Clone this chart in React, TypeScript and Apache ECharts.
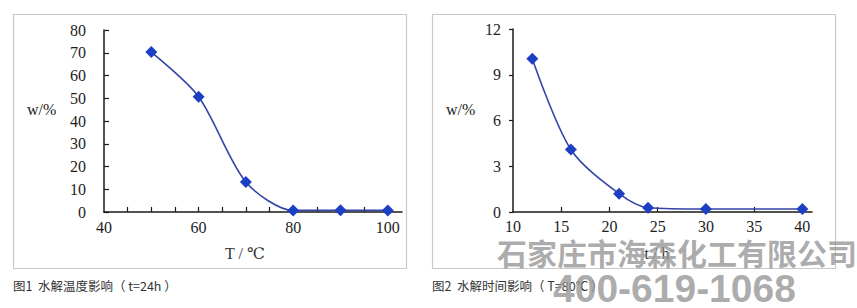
import React, { useEffect, useRef } from "react";
import * as echarts from "echarts";

const tempX = [50, 60, 70, 80, 90, 100];
const tempY = [70.3, 50.7, 13.2, 0.7, 0.8, 0.7];
const timeX = [12, 16, 21, 24, 30, 40];
const timeY = [10.05, 4.1, 1.2, 0.28, 0.2, 0.2];

const tempLabels = [40, 60, 80, 100];
const tempTicks = [45, 50, 55, 60, 65, 70, 75, 80, 85, 90, 95, 100];
const timeLabels = [10, 15, 20, 25, 30, 35, 40];
const timeTicks = [15, 20, 25, 30, 35, 40];

const caption1 = "图1  水解温度影响（ t=24h ）";
const caption2 = "图2  水解时间影响（ T=80℃ ）";
const yName = "w/%";
const xName1 = "T / ℃";
const xName2 = "t / h";
const watermark1 = "石家庄市海森化工有限公司";
const watermark2 = "400-619-1068";

const serif = "'Liberation Serif', 'DejaVu Serif', serif";
const sans = "'Noto Sans CJK SC', 'Noto Sans', sans-serif";
const axisColor = "#1a1a1a";
const lineColor = "#3444a8";
const markColor = "#1c3fc4";

export default function App() {
  const ref = useRef<HTMLDivElement>(null);
  useEffect(() => {
    if (!ref.current) return;
    const chart = echarts.init(ref.current, null, { renderer: "svg" });
    const axisLabel = { color: "#1e1e1e", fontFamily: serif, fontSize: 16 };
    chart.setOption({
      animation: false,
      backgroundColor: "#fff",
      grid: [
        { left: 104, top: 30, width: 298, height: 182 },
        { left: 513, top: 29, width: 299, height: 183 },
      ],
      xAxis: [
        {
          gridIndex: 0, type: "value", min: 40, max: 103,
          axisLine: { lineStyle: { color: axisColor, width: 1.5 } },
          axisTick: { inside: true, length: 5, customValues: tempTicks, lineStyle: { color: axisColor, width: 1.2 } },
          axisLabel: { ...axisLabel, margin: 7, customValues: tempLabels },
          splitLine: { show: false },
        },
        {
          gridIndex: 1, type: "value", min: 10, max: 41,
          axisLine: { lineStyle: { color: axisColor, width: 1.5 } },
          axisTick: { inside: true, length: 5, customValues: timeTicks, lineStyle: { color: axisColor, width: 1.2 } },
          axisLabel: { ...axisLabel, margin: 6, customValues: timeLabels },
          splitLine: { show: false },
        },
      ],
      yAxis: [
        {
          gridIndex: 0, type: "value", min: 0, max: 80, interval: 10,
          axisLine: { show: true, lineStyle: { color: axisColor, width: 1.5 } },
          axisTick: { show: true, inside: true, length: 5, lineStyle: { color: axisColor, width: 1.2 } },
          axisLabel: { ...axisLabel, margin: 18 },
          splitLine: { show: false },
        },
        {
          gridIndex: 1, type: "value", min: 0, max: 12, interval: 3,
          axisLine: { show: true, lineStyle: { color: axisColor, width: 1.5 } },
          axisTick: { show: true, inside: false, length: 4, lineStyle: { color: axisColor, width: 1.2 } },
          axisLabel: { ...axisLabel, margin: 12 },
          splitLine: { show: false },
        },
      ],
      series: [
        {
          type: "line", xAxisIndex: 0, yAxisIndex: 0, smooth: 0.28,
          data: tempX.map((x, i) => [x, tempY[i]]),
          symbol: "diamond", symbolSize: 12,
          lineStyle: { color: lineColor, width: 1.6 },
          itemStyle: { color: markColor },
        },
        {
          type: "line", xAxisIndex: 1, yAxisIndex: 1, smooth: 0.3,
          data: timeX.map((x, i) => [x, timeY[i]]),
          symbol: "diamond", symbolSize: 12,
          lineStyle: { color: lineColor, width: 1.6 },
          itemStyle: { color: markColor },
        },
      ],
      graphic: [
        { type: "rect", shape: { x: 13.5, y: 14.5, width: 393, height: 254 }, style: { fill: "none", stroke: "#c9c9c9", lineWidth: 1.2 }, z: -1 },
        { type: "rect", shape: { x: 432.5, y: 14.5, width: 403, height: 254 }, style: { fill: "none", stroke: "#c9c9c9", lineWidth: 1.2 }, z: -1 },
        { type: "text", x: 27, y: 109, style: { text: yName, font: `16px ${serif}`, fill: "#222", verticalAlign: "middle" } },
        { type: "text", x: 446, y: 109, style: { text: yName, font: `16px ${serif}`, fill: "#222", verticalAlign: "middle" } },
        { type: "text", x: 245, y: 253, style: { text: xName1, font: `16px ${serif}`, fill: "#333", align: "center", verticalAlign: "middle" } },
        { type: "text", x: 657, y: 253, style: { text: xName2, font: `16px ${serif}`, fill: "#333", align: "center", verticalAlign: "middle" } },
        { type: "text", x: 13, y: 285, style: { text: caption1, font: `12.5px ${sans}`, fill: "#333", verticalAlign: "middle" } },
        { type: "text", x: 432, y: 285, style: { text: caption2, font: `12.5px ${sans}`, fill: "#333", verticalAlign: "middle" } },
        { type: "text", x: 497, y: 252, z: 100, style: { text: watermark1, font: `bold 30px ${sans}`, fill: "rgba(150,150,150,0.78)", verticalAlign: "middle" } },
        { type: "text", x: 553, y: 288, z: 100, style: { text: watermark2, font: `bold 39px 'Liberation Sans', Arial, sans-serif`, fill: "rgba(150,150,150,0.78)", verticalAlign: "middle" } },
      ],
    });
    return () => chart.dispose();
  }, []);
  return (
    <div
      ref={ref}
      style={{ position: "absolute", left: 0, top: 0, width: 857, height: 308 }}
    />
  );
}
